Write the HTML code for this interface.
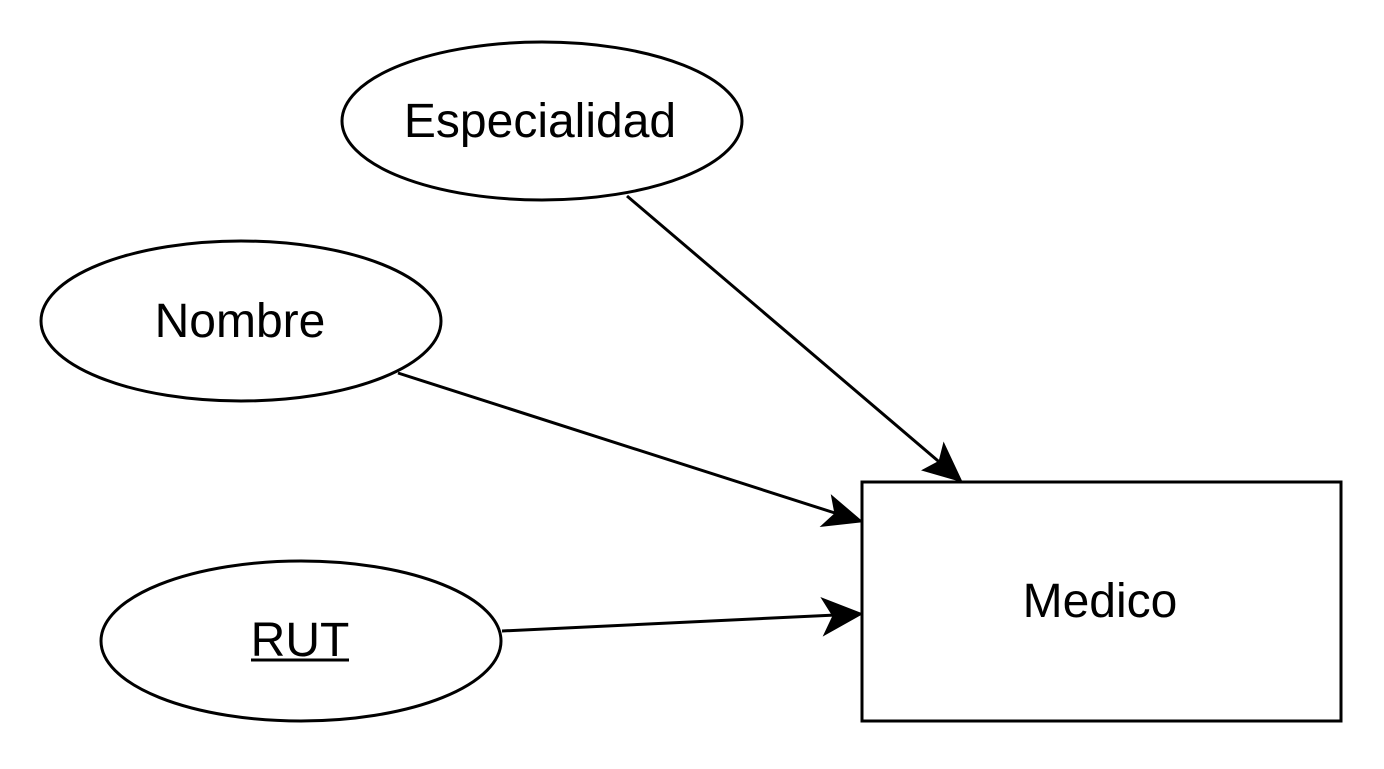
<!DOCTYPE html>
<html><head><style>html,body{margin:0;padding:0;background:#fff;}</style></head>
<body>
<svg width="1384" height="764" viewBox="0 0 1384 764" xmlns="http://www.w3.org/2000/svg" font-family="Liberation Sans, Arial, sans-serif">
<g fill="#fff" stroke="#000" stroke-width="3">
<ellipse cx="542" cy="121" rx="200" ry="79"/>
<ellipse cx="241" cy="321" rx="200" ry="80"/>
<ellipse cx="301" cy="641" rx="200" ry="80"/>
<rect x="862" y="482" width="479" height="239"/>
</g>
<g stroke="#000" stroke-width="3" fill="none">
<line x1="627" y1="196" x2="944" y2="466"/>
<line x1="398" y1="373" x2="838" y2="514"/>
<line x1="502" y1="631" x2="836" y2="615"/>
</g>
<g fill="#000" stroke="#000" stroke-width="3" stroke-linejoin="miter">
<path d="M960 480 L925 470 L940 462 L944 446 Z"/>
<path d="M860 521 L824 525 L836 514 L833 498 Z"/>
<path d="M860 614 L826 633 L834 616 L824 600 Z"/>
</g>
<g font-size="48" text-anchor="middle" fill="#000">
<text x="540" y="137">Especialidad</text>
<text x="240" y="337">Nombre</text>
<text x="300" y="656">RUT</text>
<text x="1100" y="617">Medico</text>
</g>
<line x1="251" y1="660" x2="349" y2="660" stroke="#000" stroke-width="3"/>
</svg>
</body></html>
